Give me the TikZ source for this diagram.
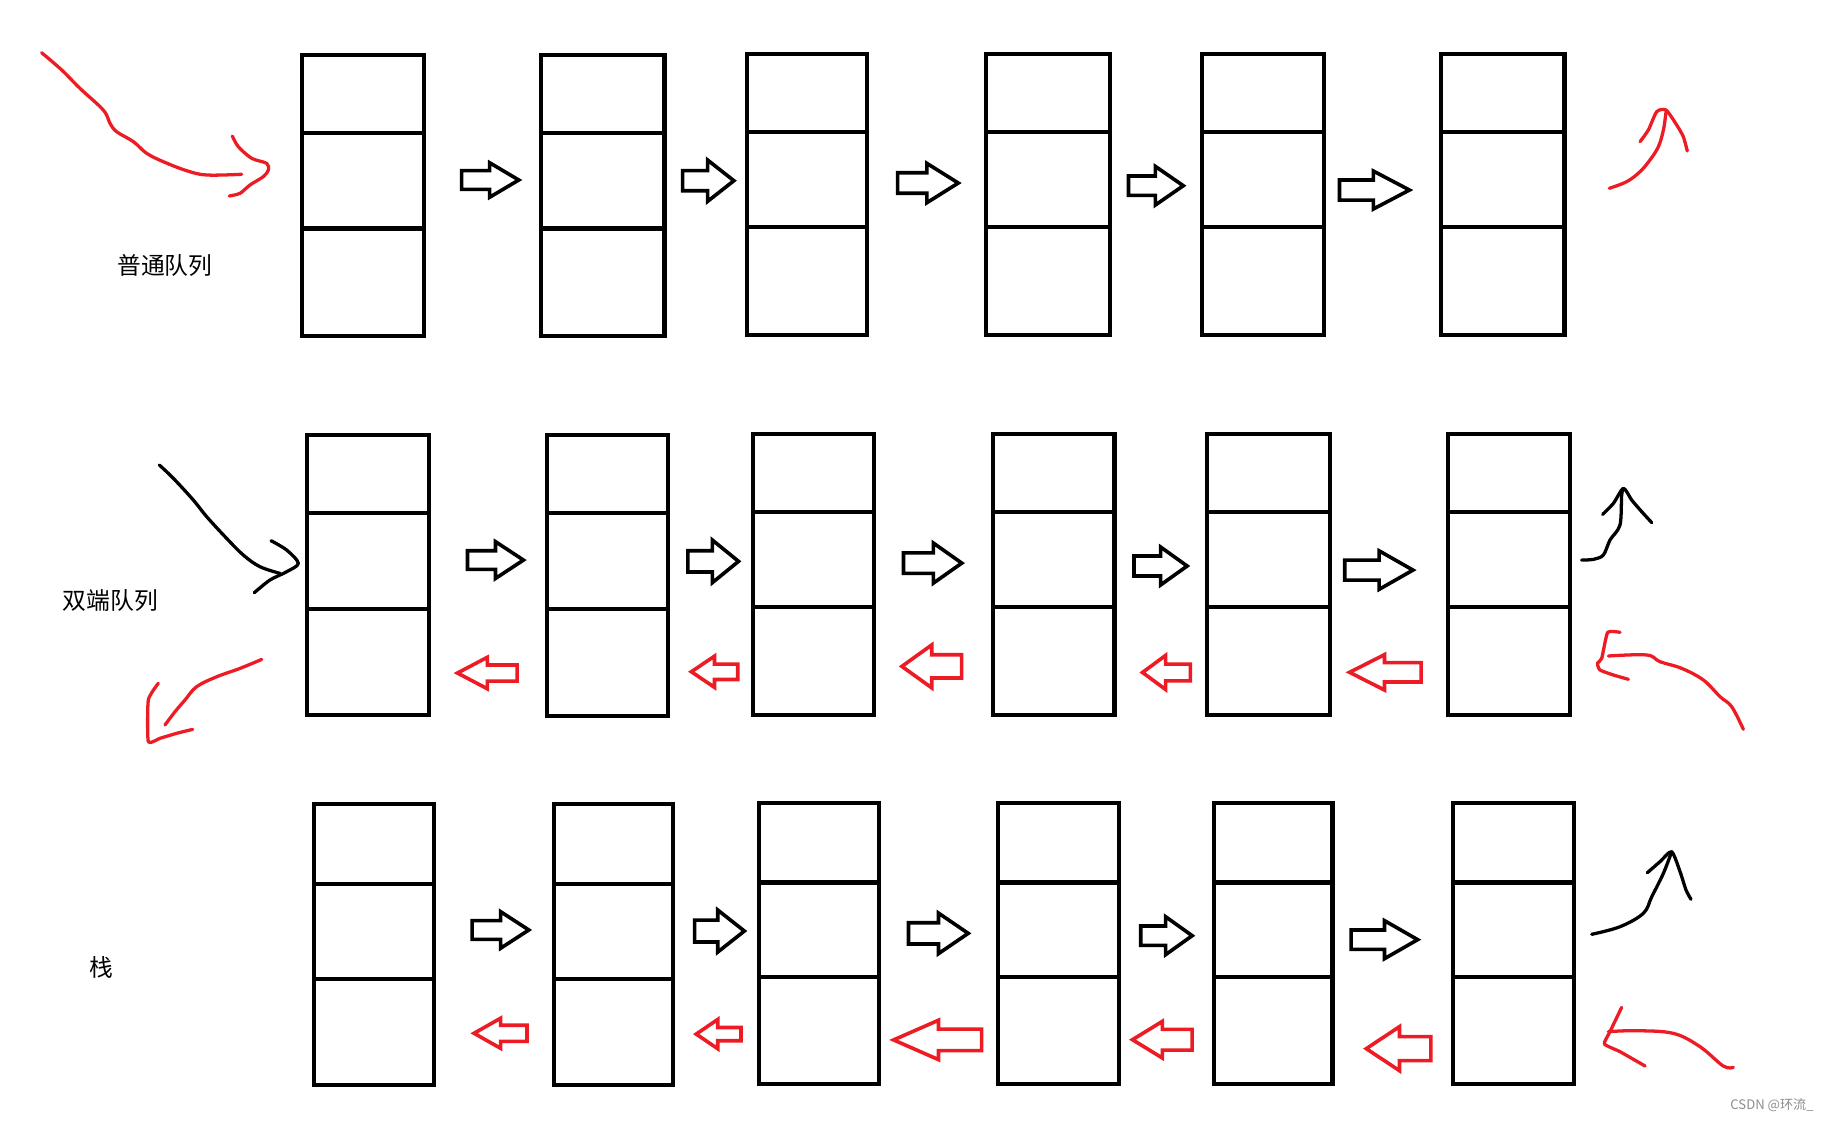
\documentclass[tikz,border=0pt]{standalone}
\usepackage{fontspec}
\newfontfamily\cjk{Noto Sans CJK SC}
\definecolor{paintred}{RGB}{237,28,36}
\tikzset{
  cell/.style={line width=2.5pt},
  blockarrow/.style={line width=2.2pt, line join=miter},
  stroke/.style={line width=2pt, line cap=round, line join=round},
  rowname/.style={font=\cjk\fontsize{14.5}{16}\selectfont, inner sep=0pt},
}

\begin{document}
\begin{tikzpicture}[x=0.025cm, y=-0.025cm]
  \useasboundingbox (0,0) rectangle (1568,962);

  % 三行格子：左、右、上、两条分隔线、下
  \foreach \xa/\xb/\ya/\yb/\yc/\yd in {
      259/364/47/114/196/288, 464/570/47/114/196/288, 641/744/46/113/195/287,
      846/952/46/113/195/287, 1031/1136/46/113/195/287, 1236/1342/46/113/195/287,
      263/368/373/440/522/613, 469/573/373/440/522/614, 646/750/372/439/521/613,
      852/956/372/439/521/613, 1035/1141/372/439/521/613, 1242/1347/372/439/521/613,
      269/372/690/758/840/931, 475/577/690/758/840/931, 651/754/689/757/838/930,
      856/960/689/757/838/930, 1041/1143/689/757/838/930, 1246/1350/689/757/838/930}{
    \draw[cell] (\xa,\ya) rectangle (\xb,\yd);
    \draw[cell] (\xa,\yb) -- (\xb,\yb);
    \draw[cell] (\xa,\yc) -- (\xb,\yc);
  }

  % 空心箭头：尾、尖、箭头根、中线、杆半高、头半高
  \foreach \ta/\tb/\bs/\cy/\sh/\hh in {
      396/445/420/154.4/8/14.8, 585.5/629.5/607/155/8.6/17.7, 770/822/795/157/8.8/16.9,
      968/1015/991/159.3/8.3/16.6, 1149/1209/1178/163/8.6/16.3,
      401/449/425/480.4/8/15.8, 590/633.5/611/481.5/9.1/18.3, 775/825/800.6/483/8.8/17.2,
      972.7/1018.3/995.5/485.5/8.6/16.3, 1153.5/1212/1183/489/8.6/16.5,
      405/453.6/429.4/797.7/8/15.7, 595.8/638.5/615.7/798.6/9.4/18, 779.3/830.5/805/800.6/9.1/17.4,
      978.5/1022.6/999.8/802.6/8.3/16.3, 1159/1216/1187.6/806/8.3/16.3}
    \draw[blockarrow] (\ta,{\cy-\sh}) -- (\bs,{\cy-\sh}) -- (\bs,{\cy-\hh}) -- (\tb,\cy)
      -- (\bs,{\cy+\hh}) -- (\bs,{\cy+\sh}) -- (\ta,{\cy+\sh}) -- cycle;

  % 红色反向箭头
  \foreach \ta/\tb/\bs/\cy/\sh/\hh in {
      443.6/392.4/418/577.3/6.9/13.5, 632.8/593/612.9/576.2/6.6/13.4, 824.9/773.6/799.2/571.6/10/18.4,
      1021/980/999.8/576.8/7.2/14.6, 1219/1157.6/1187.6/576.7/8.3/15.2,
      452/406.6/429.4/886.3/6.9/12.9, 635.6/597.2/615.7/887/5.7/12.6, 842/766.5/805/892/9.2/16.9,
      1022.6/971.4/997/891.8/8.9/15.7, 1227.4/1172/1200.4/899.5/10.3/18.9}
    \draw[blockarrow, paintred] (\ta,{\cy-\sh}) -- (\bs,{\cy-\sh}) -- (\bs,{\cy-\hh}) -- (\tb,\cy)
      -- (\bs,{\cy+\hh}) -- (\bs,{\cy+\sh}) -- (\ta,{\cy+\sh}) -- cycle;

  % 手绘箭头：第一行
  \draw[stroke, paintred] plot[smooth, tension=0.6] coordinates {(35.7,45.2) (52.9,60) (68.6,75.8)
    (88.6,94.4) (94.4,105.8) (100.1,113) (114.4,121.5) (125.8,131.5) (140.1,138.7)
    (160.1,146.4) (177.3,150.1) (207.3,149.5)};
  \draw[stroke, paintred] plot[smooth, tension=0.5] coordinates {(199.3,116.7) (204.4,125.8)
    (215.9,135.8) (228.8,140.1) (230.2,145.8) (225.9,151.5) (214.4,158.7) (205.9,165.8) (196.7,168.1)};
  \draw[stroke, paintred] plot[smooth, tension=0.6] coordinates {(1380.4,161.5) (1395.4,155.8)
    (1406.8,147.2) (1415.3,137.2) (1422.5,125.8) (1426.8,111.5) (1429.1,95.8)};
  \draw[stroke, paintred] plot[smooth, tension=0.4] coordinates {(1406.8,121.5) (1413.9,111.5)
    (1421.1,95.8) (1429.1,94.4) (1438.2,107.2) (1443.9,117.3) (1447.3,129.5)};

  % 第二行
  \draw[stroke] plot[smooth, tension=0.6] coordinates {(136.7,398.9) (148.7,410.3) (165.8,428.9)
    (177.3,443.2) (194.4,461.8) (208.7,476.1) (223,486.1) (240.2,491.8)};
  \draw[stroke] plot[smooth, tension=0.5] coordinates {(232.5,463.8) (245.9,471.8) (255.9,483.2)
    (245.9,490.4) (231.6,497.5) (218.1,508.4)};
  \draw[stroke, paintred] plot[smooth, tension=0.6] coordinates {(224.5,565.6) (205.9,573.3)
    (185.9,580.5) (168.7,589) (158.7,600.4) (150.1,610.5) (141.5,621.9)};
  \draw[stroke, paintred] plot[smooth, tension=0.3] coordinates {(135.8,586.1) (127.2,600.4)
    (127.2,636.2) (137.2,633.3) (151.6,629) (165.3,625.6)};
  \draw[stroke] plot[smooth, tension=0.5] coordinates {(1356.7,480.4) (1366.7,479.8) (1375.3,476.1)
    (1381,463.2) (1389.6,450.3) (1391,424.6) (1392.5,418.9)};
  \draw[stroke] plot[smooth, tension=0.4] coordinates {(1374.7,441.2) (1383.9,431.8) (1392.5,418.9)
    (1399.6,428.9) (1408.2,438.9) (1416.8,448.3)};
  \draw[stroke, paintred] plot[smooth, tension=0.6] coordinates {(1379.6,562.7) (1412.5,561.8)
    (1423.9,567.6) (1442.5,573.3) (1461.1,583.3) (1475.4,597.6) (1485.4,606.2) (1495.4,625.6)};
  \draw[stroke, paintred] plot[smooth, tension=0.3] coordinates {(1389.6,542.4) (1379,542.4)
    (1373.9,564.7) (1370.2,569) (1372.4,574.7) (1383.9,579) (1396.8,582.7)};

  % 第三行
  \draw[stroke] plot[smooth, tension=0.6] coordinates {(1365.3,801.4) (1389.6,794.9) (1409.6,783.4)
    (1416.8,769.2) (1426.8,749.1) (1433.9,730.6)};
  \draw[stroke] plot[smooth, tension=0.4] coordinates {(1413,748.6) (1423.9,739.1) (1433.9,730.6)
    (1441.1,747.7) (1446.2,763.4) (1450.5,771.4)};
  \draw[stroke, paintred] plot[smooth, tension=0.6] coordinates {(1379.6,884.9) (1403.9,884.1)
    (1435.4,886.4) (1458.2,897.8) (1478.2,914.4) (1486.8,915.5)};
  \draw[stroke, paintred] plot[smooth, tension=0.3] coordinates {(1391,864.1) (1381,884.9)
    (1376.2,895.5) (1389.6,902.1) (1411.1,914.4)};

  % 文字
  \node[rowname] (lblqueue) at (141.5,228) {普通队列};
  \node[rowname] (lbldeque) at (94.7,515) {双端队列};
  \node[rowname] (lblstack) at (86.7,830) {栈};
  \node[font=\cjk\fontsize{8}{9}\selectfont, text=black!45, inner sep=0pt] (watermark)
    at (1520,948) {CSDN @环流\_};
\end{tikzpicture}
\end{document}
